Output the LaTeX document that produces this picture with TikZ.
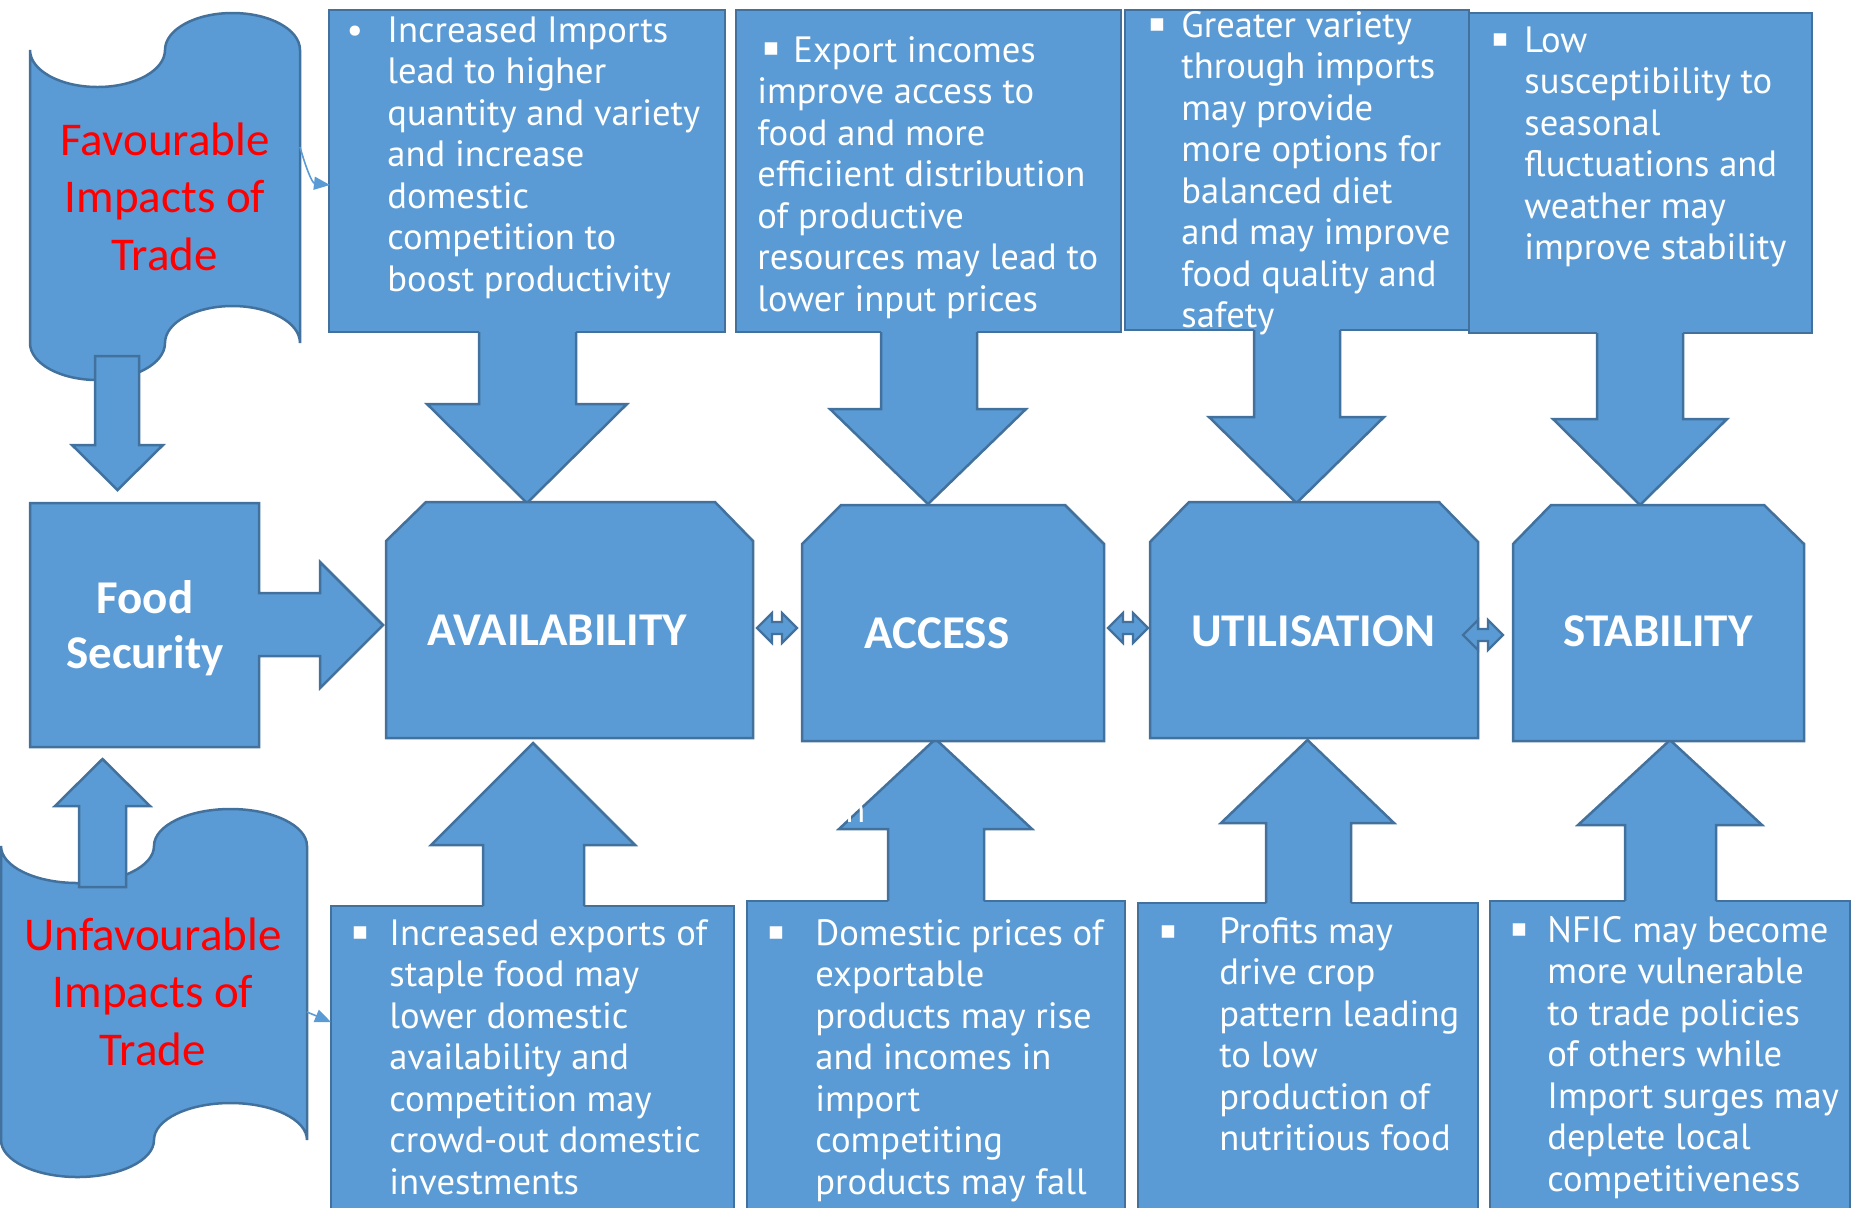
\documentclass[tikz,border=0pt]{standalone}
\usepackage{fontspec}
\setmainfont{PT Sans}
\newfontfamily\headfont{Carlito}
\newfontfamily\markfont{DejaVu Sans}
\usetikzlibrary{arrows.meta,fit}

\definecolor{shapefill}{HTML}{5B9BD5}
\definecolor{shapeline}{HTML}{41719C}
\definecolor{alertred}{HTML}{FF0000}

% left-aligned and centred stacks of lines; the box baseline is the first line
\newcommand\stackL[1]{\vtop{\baselineskip=20.75pt\halign{##\hfil\cr#1\crcr}}}
\newcommand\stackC[2]{\vtop{\baselineskip=#1\halign{\hfil##\hfil\cr#2\crcr}}}

% block arrows: shaft left, shaft right, shaft end, head base, head left, head right, tip
\newcommand\blockdown[7]{%
  \fill[shapefill] (#1,{#3-3}) -- (#1,#4) -- (#5,#4) -- ({(#5+#6)/2},#7) -- (#6,#4) -- (#2,#4) -- (#2,{#3-3}) -- cycle;
  \draw[shapeedge] (#1,#3) -- (#1,#4) -- (#5,#4) -- ({(#5+#6)/2},#7) -- (#6,#4) -- (#2,#4) -- (#2,#3);}
\newcommand\blockup[7]{%
  \fill[shapefill] (#1,{#3+3}) -- (#1,#4) -- (#5,#4) -- ({(#5+#6)/2},#7) -- (#6,#4) -- (#2,#4) -- (#2,{#3+3}) -- cycle;
  \draw[shapeedge] (#1,#3) -- (#1,#4) -- (#5,#4) -- ({(#5+#6)/2},#7) -- (#6,#4) -- (#2,#4) -- (#2,#3);}
% small left-right arrow: left tip, right tip, centre line
\newcommand\twoway[3]{%
  \filldraw[shapefill,draw=shapeline,line width=1.1pt] (#1,#3) -- ({#1+15},{#3-15}) -- ({#1+15},{#3-6}) -- ({#2-15},{#3-6}) -- ({#2-15},{#3-15}) -- (#2,#3) -- ({#2-15},{#3+15}) -- ({#2-15},{#3+6}) -- ({#1+15},{#3+6}) -- ({#1+15},{#3+15}) -- cycle;}

\begin{document}
\begin{tikzpicture}[x=0.5pt,y=-0.5pt,
  panel/.style={fill=shapefill,draw=shapeline,line width=1.25pt,inner sep=0pt,outer sep=0pt},
  shapeedge/.style={draw=shapeline,line width=1.25pt,line join=miter},
  body/.style={anchor=base west,inner sep=0pt,text=white,font=\fontsize{18.3}{20.75}\selectfont},
  dot/.style={anchor=base,inner sep=0pt,text=white,font=\fontsize{18.3}{20.75}\selectfont},
  squaremark/.style={anchor=center,inner sep=0pt,text=white,font=\markfont\fontsize{12.5}{12.5}\selectfont},
  head/.style={anchor=base,inner sep=0pt,text=white,font=\headfont\bfseries\fontsize{23.5}{27.5}\selectfont},
  scrolltext/.style={anchor=base,inner sep=0pt,text=alertred,font=\headfont\fontsize{23.5}{28.75}\selectfont},
  link/.style={draw=shapefill,line width=0.8pt,-{Triangle[length=8pt,width=6.5pt]}},
]
\useasboundingbox (0,0) rectangle (1861,1207);
\begin{scope}
\clip (0,0) rectangle (1861,1207);

% punched-tape banners
\filldraw[panel] (30,50) .. controls (30,70.44) and (60.22,87) .. (97.5,87)
  .. controls (134.78,87) and (165,70.44) .. (165,50)
  .. controls (165,29.56) and (195.22,13) .. (232.5,13)
  .. controls (269.78,13) and (300,29.56) .. (300,50)
  -- (300,343)
  .. controls (300,322.56) and (269.78,306) .. (232.5,306)
  .. controls (195.22,306) and (165,322.56) .. (165,343)
  .. controls (165,363.44) and (134.78,380) .. (97.5,380)
  .. controls (60.22,380) and (30,363.44) .. (30,343) -- cycle;
\filldraw[panel] (1,846) .. controls (1,866.44) and (35.25,883) .. (77.5,883)
  .. controls (119.75,883) and (154,866.44) .. (154,846)
  .. controls (154,825.56) and (188.25,809) .. (230.5,809)
  .. controls (272.75,809) and (307,825.56) .. (307,846)
  -- (307,1140)
  .. controls (307,1119.56) and (272.75,1103) .. (230.5,1103)
  .. controls (188.25,1103) and (154,1119.56) .. (154,1140)
  .. controls (154,1160.44) and (119.75,1177) .. (77.5,1177)
  .. controls (35.25,1177) and (1,1160.44) .. (1,1140) -- cycle;

% text panels, top and bottom rows
\node[panel,fit={(329,10)(725,332)}] (imp1) {};
\node[panel,fit={(736,10)(1121,332)}] (imp2) {};
\node[panel,fit={(1125,10)(1469,330)}] (imp3) {};
\node[panel,fit={(1469,13)(1812,333)}] (imp4) {};
\node[panel,fit={(331,906)(734,1240)}] (neg1) {};
\node[panel,fit={(747,901)(1125,1240)}] (neg2) {};
\node[panel,fit={(1138,903)(1478,1240)}] (neg3) {};
\node[panel,fit={(1490,901)(1850,1240)}] (neg4) {};

% arrows from the panels to the pillars
\blockdown{479}{576}{332}{404}{427}{627}{503}
\blockdown{881}{977}{332}{409}{830}{1026}{504}
\blockdown{1254}{1340}{330}{417}{1209}{1384}{503}
\blockdown{1597}{1683}{333}{419}{1553}{1727}{505}
\blockup{483}{584}{906}{845}{431}{635}{743}
\blockup{888}{984}{901}{829}{839}{1032}{739}
\blockup{1266}{1351}{903}{823}{1221}{1394}{740}
\blockup{1625}{1716}{901}{825}{1578}{1762}{740}

% food security callout
\filldraw[panel] (30,503) -- (259,503) -- (259,593) -- (320,593) -- (320,562) -- (383,625)
  -- (320,688) -- (320,656) -- (259,656) -- (259,747) -- (30,747) -- cycle;

% the four pillars
\filldraw[panel] (386,541) -- (426,502) -- (715,502) -- (753,541) -- (753,738) -- (386,738) -- cycle;
\filldraw[panel] (802,544) -- (841,505) -- (1065,505) -- (1104,544) -- (1104,741) -- (802,741) -- cycle;
\filldraw[panel] (1150,542) -- (1189,502) -- (1439,502) -- (1478,542) -- (1478,738) -- (1150,738) -- cycle;
\filldraw[panel] (1513,544) -- (1551,505) -- (1764,505) -- (1804,544) -- (1804,741) -- (1513,741) -- cycle;

% arrows between the banners and the callout
\filldraw[panel] (95,356) -- (95,445) -- (72,445) -- (117.5,490) -- (163,445) -- (139,445) -- (139,356) -- cycle;
\filldraw[panel] (79,887) -- (79,806) -- (55,806) -- (102.5,759) -- (150,806) -- (126,806) -- (126,887) -- cycle;

% two-way links between pillars
\twoway{757}{797}{628}
\twoway{1108}{1148}{628}
\twoway{1463}{1503}{635}

% thin links from the banners to the panels
\coordinate (favout) at (300,147);
\coordinate (favin) at (330,185);
\coordinate (unfout) at (307,1012);
\coordinate (unfin) at (331,1022);
\draw[link] (favout) .. controls (306,168) and (312,183) .. (favin);
\draw[link] (unfout) -- (unfin);

% banner and pillar labels
\node[scrolltext] (favtxt) at (165,155) {\stackC{28.75pt}{Favourable\cr Impacts of\cr Trade}};
\node[scrolltext] (unftxt) at (153,950) {\stackC{28.75pt}{Unfavourable\cr Impacts of\cr Trade}};
\node[head] (fstxt) at (145,613) {\stackC{27.5pt}{Food\cr Security}};
\node[head] (avtxt) at (557,645) {AVAILABILITY};
\node[head] (actxt) at (937,648) {ACCESS};
\node[head] (uttxt) at (1313,646) {UTILISATION};
\node[head] (sttxt) at (1658,646) {STABILITY};

% panel texts, top row
\node[dot] (imp1b) at (355,42) {•};
\node[body] (imp1t) at (387,42) {\stackL{Increased Imports\cr lead to higher\cr quantity and variety\cr and increase\cr domestic\cr competition to\cr boost productivity}};
\node[squaremark] (imp2b) at (771,49) {▪};
\node[body] (imp2t) at (757,62) {\stackL{\hskip18pt Export incomes\cr improve access to\cr food and more\cr efficiient distribution\cr of productive\cr resources may lead to\cr lower input prices}};
\node[squaremark] (imp3b) at (1157,25) {▪};
\node[body] (imp3t) at (1181,37) {\stackL{Greater variety\cr through imports\cr may provide\cr more options for\cr balanced diet\cr and may improve\cr food quality and\cr safety}};
\node[squaremark] (imp4b) at (1500,40) {▪};
\node[body] (imp4t) at (1524,52) {\stackL{Low\cr susceptibility to\cr seasonal\cr fluctuations and\cr weather may\cr improve stability}};

% panel texts, bottom row
\node[squaremark] (neg1b) at (360,933) {▪};
\node[body] (neg1t) at (389,945) {\stackL{Increased exports of\cr staple food may\cr lower domestic\cr availability and\cr competition may\cr crowd-out domestic\cr investments}};
\node[squaremark] (neg2b) at (776,933) {▪};
\node[body] (neg2t) at (815,945) {\stackL{Domestic prices of\cr exportable\cr products may rise\cr and incomes in\cr import\cr competiting\cr products may fall}};
\node[squaremark] (neg3b) at (1168,932) {▪};
\node[body] (neg3t) at (1219,943) {\stackL{Profits may\cr drive crop\cr pattern leading\cr to low\cr production of\cr nutritious food}};
\node[squaremark] (neg4b) at (1519,930) {▪};
\node[body] (neg4t) at (1547,942) {\stackL{NFIC may become\cr more vulnerable\cr to trade policies\cr of others while\cr Import surges may\cr deplete local\cr competitiveness}};

% stray white letter over the access arrow
\node[body] (stray) at (845,822) {n};
\end{scope}
\end{tikzpicture}
\end{document}
